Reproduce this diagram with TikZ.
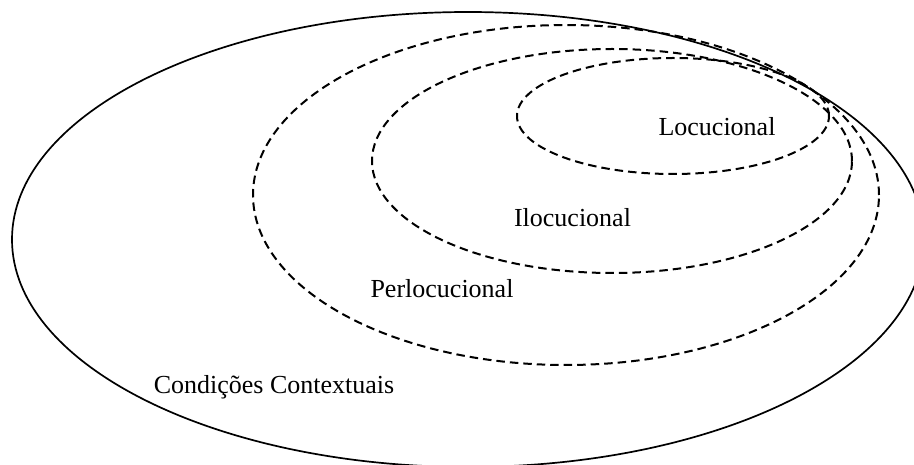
\documentclass[tikz,border=0pt]{standalone}
\usepackage{fontspec}
\setmainfont{Liberation Serif}
\tikzset{
  outerline/.style={line width=1.7pt, black},
  actline/.style={line width=2pt, black, dash pattern=on 8.5pt off 5pt},
  lbl/.style={anchor=base, inner sep=0pt, font=\fontsize{26}{30}\selectfont}
}
\begin{document}
\begin{tikzpicture}[x=1pt, y=-1pt]
  \useasboundingbox (0,0) rectangle (914,465);
  \clip (0,0) rectangle (914,465);
  % context conditions
  \draw[outerline] (468,239.5) ellipse [x radius=456pt, y radius=227.5pt];
  % speech-act levels
  \draw[actline] (566,195) ellipse [x radius=313pt, y radius=170pt];
  \draw[actline] (612,161) ellipse [x radius=240pt, y radius=112pt];
  \draw[actline] (673,116) ellipse [x radius=156pt, y radius=58pt];
  % labels
  \node[lbl] (loc) at (717,136) {Locucional};
  \node[lbl] (iloc) at (572.5,227) {Ilocucional};
  \node[lbl] (perl) at (442,298) {Perlocucional};
  \node[lbl] (cond) at (274,394) {Condições Contextuais};
\end{tikzpicture}
\end{document}
